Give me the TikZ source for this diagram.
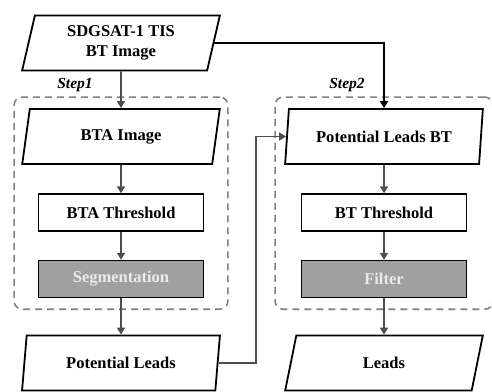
\documentclass[tikz,border=0pt]{standalone}
\usepackage{fontspec}
\setmainfont{Liberation Serif}
\usepackage{tikz}
\usetikzlibrary{positioning,shapes.geometric,fit,arrows.meta}
\definecolor{linegray}{HTML}{4D4D4D}
\definecolor{boxgray}{HTML}{A0A0A0}
\tikzset{
        every node/.style={font=\bfseries\fontsize{16.5}{20}\selectfont, align=center},
        io/.style={draw, line width=1.8pt, trapezium, trapezium left angle=77, trapezium right angle=103,
                trapezium stretches=true, minimum width=198pt, minimum height=55pt, inner sep=0pt},
        proc/.style={draw, line width=1.4pt, minimum width=165pt, minimum height=37pt, inner sep=0pt},
        procdark/.style={proc, fill=boxgray, text=white!92!black},
        group/.style={draw=gray, line width=1.6pt, dash pattern=on 7pt off 5pt, rounded corners=8pt, inner sep=11pt},
        flow/.style={draw=linegray, line width=1.6pt, -{Triangle[width=8pt,length=7pt]}},
        steplabel/.style={font=\bfseries\itshape\fontsize{15.5}{18}\selectfont},
}
\begin{document}
\begin{tikzpicture}[x=1pt,y=1pt]
\useasboundingbox (0,0) rectangle (492,391);

\node[io] (src) at (121,348) {SDGSAT-1 TIS\\BT Image};
\node[io] (btaimg) at (121,254.5) {BTA Image};
\node[proc] (btathr) at (121,178.5) {BTA Threshold};
\node[procdark] (seg) at (121,112) {Segmentation};
\node[io] (pl) at (121,28) {Potential Leads};

\node[io] (plbt) at (384,254.5) {Potential Leads BT};
\node[proc] (btthr) at (384,178.5) {BT Threshold};
\node[procdark] (filt) at (384,112) {Filter};
\node[io] (leads) at (384,28) {Leads};

\node[group, fit=(btaimg) (seg)] (step1) {};
\node[group, fit=(plbt) (filt)] (step2) {};
\node[steplabel] at (75,306) {Step1};
\node[steplabel] at (347,306) {Step2};

\draw[flow] (src) -- (btaimg);
\draw[flow] (btaimg) -- (btathr);
\draw[flow] (btathr) -- (seg);
\draw[flow] (seg) -- (pl);
\draw[flow] (plbt) -- (btthr);
\draw[flow] (btthr) -- (filt);
\draw[flow] (filt) -- (leads);

\draw[flow, draw=black, line width=1.9pt] (src.east) -| (plbt.north);
\draw[flow] (pl.east) -- ++(37.5,0) |- (plbt.west);

\end{tikzpicture}
\end{document}
